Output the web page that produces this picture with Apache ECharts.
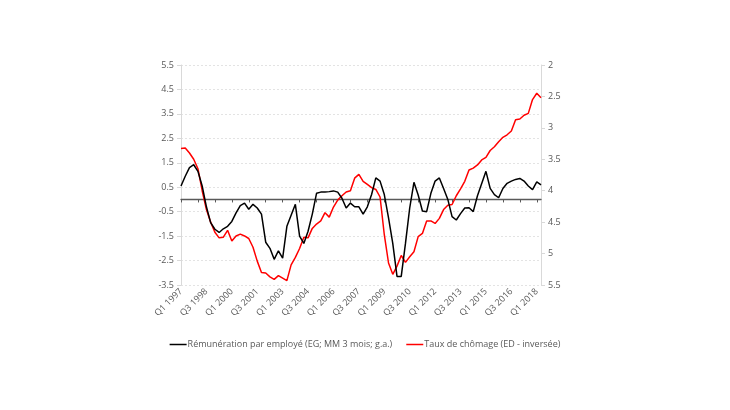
<!DOCTYPE html>
<html><head><meta charset="utf-8">
<script src="https://cdn.jsdelivr.net/npm/echarts@6/dist/echarts.min.js"></script>
<style>html,body{margin:0;padding:0;background:#fff}#c{width:730px;height:410px}</style>
</head><body><div id="c"></div>
<script>
const quarters = [];
for (let y = 1997; y <= 2018; y++) { for (let q = 1; q <= 4; q++) { quarters.push('Q' + q + ' ' + y); } }
const categories = quarters.slice(0, 86); // Q1 1997 .. Q2 2018

const remuneration = [
 0.55, 0.95, 1.3, 1.42, 1.15, 0.55, -0.3, -0.95, -1.22, -1.35,
 -1.2, -1.1, -0.9, -0.55, -0.25, -0.15, -0.4, -0.2, -0.35, -0.6,
 -1.75, -2.0, -2.45, -2.1, -2.4, -1.1, -0.65, -0.2, -1.5, -1.8,
 -1.3, -0.6, 0.25, 0.3, 0.3, 0.32, 0.35, 0.3, 0.05, -0.35,
 -0.15, -0.3, -0.3, -0.6, -0.3, 0.2, 0.88, 0.75, 0.2, -0.75,
 -1.8, -3.15, -3.15, -1.8, -0.35, 0.7, 0.18, -0.47, -0.5, 0.25,
 0.75, 0.88, 0.45, 0.0, -0.7, -0.84, -0.58, -0.35, -0.34, -0.5,
 0.15, 0.65, 1.15, 0.45, 0.2, 0.07, 0.45, 0.66, 0.75, 0.82,
 0.86, 0.75, 0.55, 0.4, 0.72, 0.6
];
const chomage = [
 3.33, 3.32, 3.4, 3.5, 3.65, 4.0, 4.3, 4.5, 4.66, 4.75,
 4.74, 4.63, 4.8, 4.72, 4.69, 4.72, 4.76, 4.9, 5.12, 5.3,
 5.31, 5.37, 5.41, 5.35, 5.39, 5.43, 5.18, 5.06, 4.92, 4.74,
 4.75, 4.6, 4.53, 4.48, 4.35, 4.42, 4.26, 4.15, 4.08, 4.02,
 4.0, 3.8, 3.74, 3.85, 3.9, 3.95, 3.98, 4.1, 4.7, 5.15,
 5.33, 5.2, 5.03, 5.14, 5.05, 4.97, 4.73, 4.68, 4.48, 4.48,
 4.52, 4.44, 4.3, 4.23, 4.22, 4.08, 3.97, 3.85, 3.67, 3.64,
 3.59, 3.51, 3.47, 3.36, 3.3, 3.22, 3.15, 3.11, 3.05, 2.87,
 2.86, 2.8, 2.77, 2.55, 2.45, 2.52
];
const seriesNames = ['Rémunération par employé (EG; MM 3 mois; g.a.)', 'Taux de chômage (ED - inversée)'];

const FONT = '"Open Sans", "Noto Sans", sans-serif';
const LBL = '#595959';
const chart = echarts.init(document.getElementById('c'));
chart.setOption({
  animation: false,
  textStyle: { fontFamily: FONT },
  grid: { left: 181, right: 189, top: 65, bottom: 125, containLabel: false },
  legend: {
    data: [
      { name: seriesNames[0], itemStyle: { color: '#000' } },
      { name: seriesNames[1], itemStyle: { color: '#ff0000' } }
    ],
    left: 'center', top: 335, icon: 'rect', itemWidth: 17, itemHeight: 1.5, itemGap: 14,
    textStyle: { fontFamily: FONT, fontSize: 9, color: LBL, padding: [0, 0, 0, -4] }
  },
  xAxis: [
    {
      type: 'category', data: categories, boundaryGap: false, position: 'bottom',
      axisLine: { show: false, onZero: false }, axisTick: { show: false },
      axisLabel: { interval: 5, rotate: 45, fontSize: 9, color: LBL, fontFamily: FONT, margin: 5 },
      splitLine: { show: false }
    },
    {
      type: 'category', data: categories, boundaryGap: false, position: 'bottom',
      axisLine: { show: true, onZero: true, onZeroAxisIndex: 0, lineStyle: { color: '#595959', width: 1.3 } },
      axisTick: { show: true, interval: 3, length: 3, lineStyle: { color: '#595959' } },
      axisLabel: { show: false }, splitLine: { show: false }
    }
  ],
  yAxis: [
    {
      type: 'value', min: -3.5, max: 5.5, interval: 1, position: 'left',
      axisLine: { show: true, lineStyle: { color: '#d9d9d9' } },
      axisTick: { show: true, length: 4, lineStyle: { color: '#d9d9d9' } },
      axisLabel: { fontSize: 9, color: LBL, fontFamily: FONT, margin: 7 },
      splitLine: { show: true, lineStyle: { color: '#e3e3e3', type: [2, 2] } }
    },
    {
      type: 'value', min: 2, max: 5.5, interval: 0.5, inverse: true, position: 'right',
      axisLine: { show: true, lineStyle: { color: '#d9d9d9' } },
      axisTick: { show: true, length: 4, lineStyle: { color: '#d9d9d9' } },
      axisLabel: { fontSize: 9, color: LBL, fontFamily: FONT, margin: 7 },
      splitLine: { show: false }
    }
  ],
  series: [
    {
      name: seriesNames[0], type: 'line', xAxisIndex: 0, yAxisIndex: 0, data: remuneration,
      showSymbol: false, lineStyle: { color: '#000', width: 1.5 }, itemStyle: { color: '#000' }, z: 3
    },
    {
      name: seriesNames[1], type: 'line', xAxisIndex: 0, yAxisIndex: 1, data: chomage,
      showSymbol: false, lineStyle: { color: '#ff0000', width: 1.5 }, itemStyle: { color: '#ff0000' }, z: 2
    }
  ]
});
</script></body></html>
